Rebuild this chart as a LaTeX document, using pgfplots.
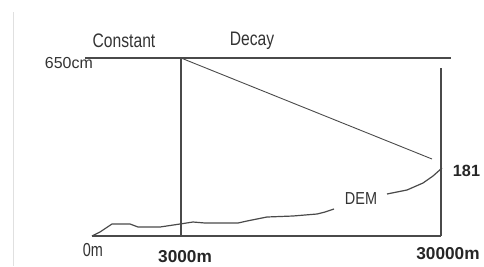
\documentclass[border=0pt]{standalone}
\usepackage{pgfplots}
\pgfplotsset{compat=1.18}
\usepackage{fontspec}
\setmainfont{Liberation Sans}
\definecolor{ln}{HTML}{4A4A4A}
\begin{document}
\begin{tikzpicture}
\begin{axis}[
  width=484bp, height=266bp, scale only axis,
  xmin=0, xmax=484, ymin=0, ymax=266, y dir=reverse,
  hide axis, clip=false,
]
\path (rel axis cs:0,0) rectangle (rel axis cs:1,1);
% faint left border
\addplot[color=black!12, line width=0.8pt] coordinates {(13,12) (13,266)};
% frame
\addplot[color=ln, line width=1.1pt] coordinates {(85,58) (451,58)};
\addplot[color=ln, line width=1.1pt] coordinates {(181,58) (181,236)};
\addplot[color=ln, line width=1.1pt] coordinates {(441,68) (441,236)};
\addplot[color=ln, line width=1.1pt] coordinates {(92,236) (441,236)};
% decay line
\addplot[color=ln, line width=0.9pt] coordinates {(181,58) (432,159)};
% DEM curve
\addplot[color=ln, line width=1.2pt] coordinates {
 (92,236) (100,232) (112,224) (130,224) (138,227) (160,227) (180,224)
 (193,222) (205,223) (238,223) (247,221) (267,217) (293,216) (317,214) (325,212) (334,209)};
\addplot[color=ln, line width=1.2pt] coordinates {
 (387,194) (407,190) (423,183) (433,176) (442,168)};
% labels
\node[font=\fontsize{15.7}{17}\selectfont, text=black!80, yscale=1.25, transform shape] at (axis cs:124,41) {Constant};
\node[font=\fontsize{15.7}{17}\selectfont, text=black!80, yscale=1.25, transform shape] at (axis cs:252,41) {Decay};
\node[font=\fontsize{16}{17}\selectfont, text=black!80, anchor=east, inner sep=0pt] at (axis cs:93,63) {650cm};
\node[font=\fontsize{14.5}{16}\selectfont, text=black!80, yscale=1.2, transform shape] at (axis cs:361,199) {DEM};
\node[font=\fontsize{14.5}{16}\selectfont, text=black!80, yscale=1.3, transform shape] at (axis cs:93,250) {0m};
\node[font=\bfseries\fontsize{17.3}{19}\selectfont, text=black!85] at (axis cs:185,257) {3000m};
\node[font=\bfseries\fontsize{17.3}{19}\selectfont, text=black!85] at (axis cs:448,254) {30000m};
\node[font=\bfseries\fontsize{16.3}{18}\selectfont, text=black!85] at (axis cs:466.5,171) {181};
\end{axis}
\end{tikzpicture}
\end{document}
